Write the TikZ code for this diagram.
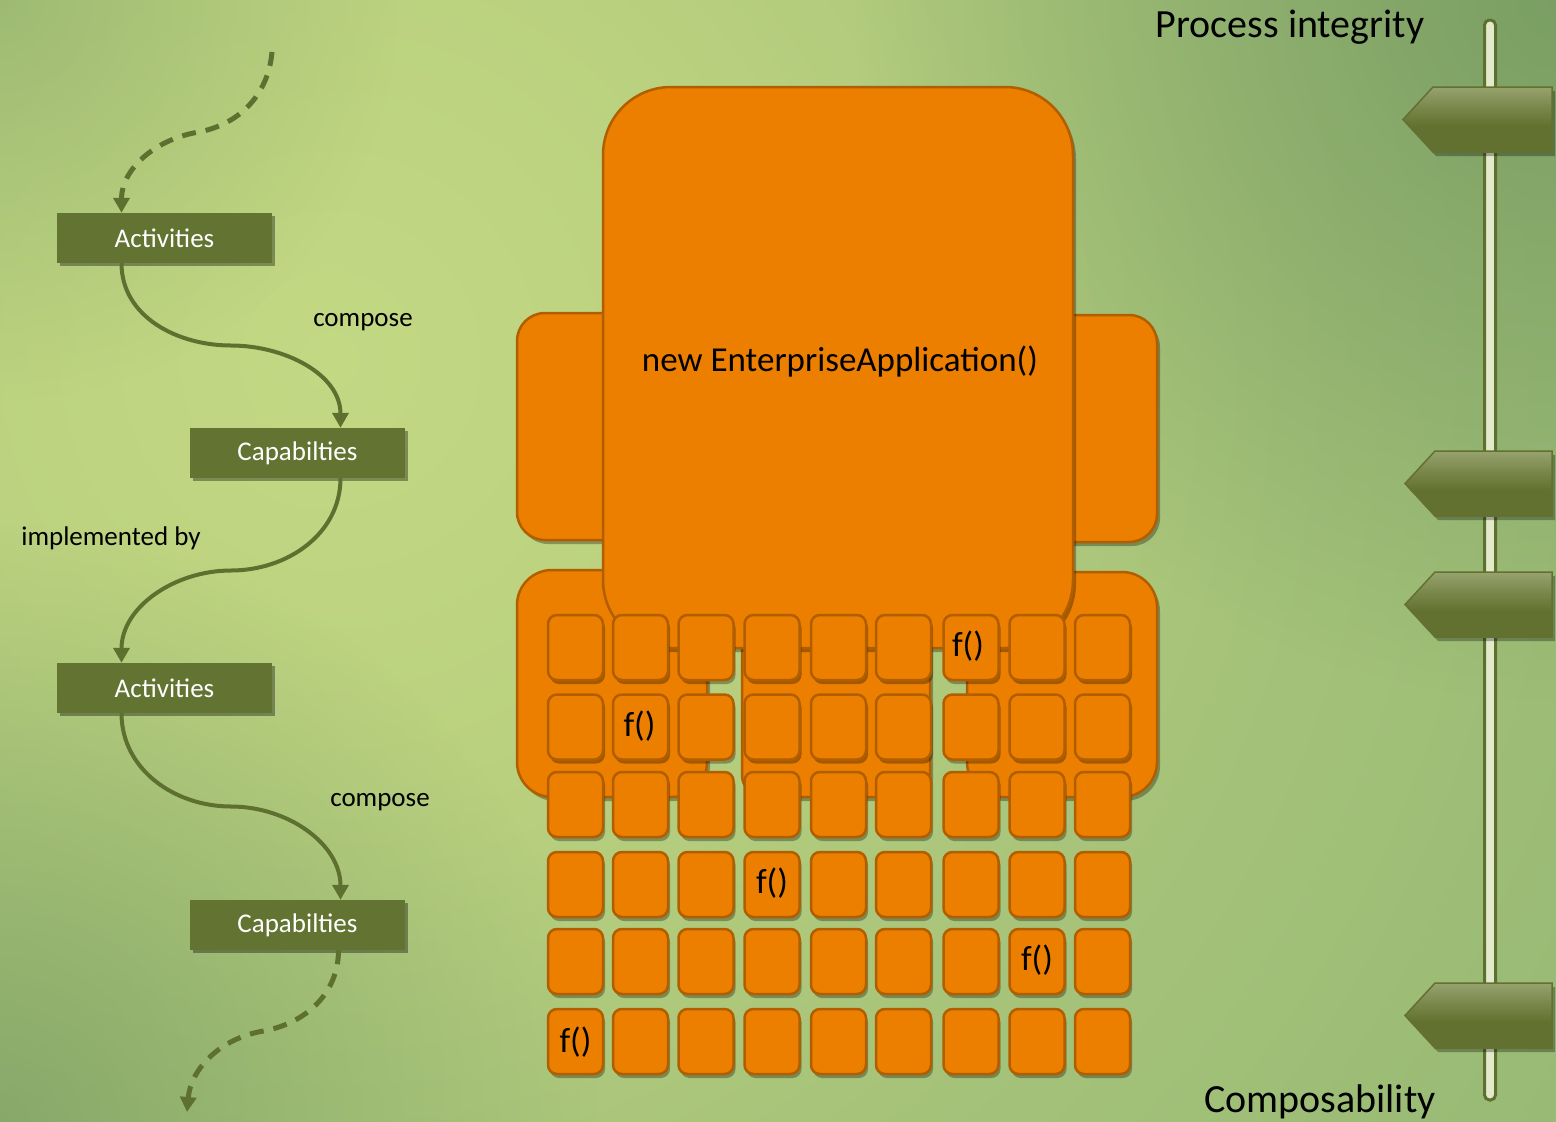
\documentclass[tikz,border=0pt]{standalone}
\usepackage{fontspec}
\setmainfont{Carlito}
\usetikzlibrary{arrows.meta,shadows,calc,fadings}
\definecolor{orfill}{HTML}{EC7F00}
\definecolor{ordraw}{HTML}{B05E00}
\definecolor{boxgreen}{HTML}{627332}
\definecolor{linegreen}{HTML}{5E7030}
\definecolor{bg0}{HTML}{C3D883}
\definecolor{bg1}{HTML}{BAD17F}
\definecolor{bg2}{HTML}{A5C279}
\definecolor{bg3}{HTML}{93B773}
\definecolor{bg4}{HTML}{82A86A}
\definecolor{corner}{HTML}{6F955E}
\definecolor{tagdark}{HTML}{62712F}
\definecolor{taglight}{HTML}{C6CEA6}
\definecolor{barfill}{HTML}{E3EACB}
\pgfdeclareradialshading{bgshade}{\pgfpoint{0bp}{0bp}}{color(0bp)=(bg0); color(7bp)=(bg1); color(16bp)=(bg2); color(27bp)=(bg3); color(40bp)=(bg4); color(50bp)=(bg4)}
\pgfdeclareverticalshading{tagshade}{100bp}{color(0bp)=(tagdark); color(45bp)=(tagdark); color(60bp)=(tagdark!75!taglight); color(100bp)=(taglight)}
\tikzfading[name=radfade, inner color=transparent!0, outer color=transparent!100]
\begin{document}
\begin{tikzpicture}[x=1pt,y=-1pt,
  panel/.style={fill=orfill, draw=ordraw, line width=2.5pt,
    drop shadow={shadow xshift=3pt, shadow yshift=-4pt, opacity=0.3, fill=black}},
  sq/.style={rectangle, minimum width=55pt, minimum height=65pt, rounded corners=9pt,
    fill=orfill, draw=ordraw, line width=2.5pt, inner sep=0pt,
    drop shadow={shadow xshift=2pt, shadow yshift=-4pt, opacity=0.3, fill=black}},
  ftext/.style={font=\fontsize{35}{40}\selectfont, text=black, inner sep=0pt},
  gbox/.style={rectangle, fill=boxgreen, text=white, minimum width=215pt, minimum height=50pt,
    inner sep=0pt, font=\fontsize{27}{32}\selectfont,
    drop shadow={shadow xshift=3pt, shadow yshift=-3pt, opacity=0.35, fill=black}},
  conn/.style={draw=linegreen, line width=4pt, -{Triangle[width=16pt,length=15pt]}},
  dconn/.style={conn, line width=5pt, dash pattern=on 14pt off 10pt},
  lbl/.style={font=\fontsize{27}{32}\selectfont, text=black, inner sep=0pt},
  big/.style={font=\fontsize{40}{44}\selectfont, text=black, inner sep=0pt},
  tag/.style={shading=tagshade, draw=tagdark, line width=1.5pt,
    drop shadow={shadow xshift=3pt, shadow yshift=-4pt, opacity=0.3, fill=black}}
]
\useasboundingbox (0,0) rectangle (1556,1122);
% background
\begin{scope}
\clip (0,0) rectangle (1556,1122);
\shade[shading=bgshade] (330,360) circle[radius=1500pt];
\fill[corner, path fading=radfade, fill opacity=0.75] (1556,0) circle[radius=700pt];
\fill[corner, path fading=radfade, fill opacity=0.6] (0,1122) circle[radius=600pt];
\fill[corner, path fading=radfade, fill opacity=0.35] (0,0) circle[radius=400pt];
\end{scope}

% ---- left flow ----
\node[gbox] (a1) at (164.5,238) {\raisebox{-2pt}{Activities}};
\node[gbox] (c1) at (297.5,453) {\raisebox{-2pt}{Capabilties}};
\node[gbox] (a2) at (164.5,688) {\raisebox{-2pt}{Activities}};
\node[gbox] (c2) at (297.5,925) {\raisebox{-2pt}{Capabilties}};
\coordinate (top) at (272,52);
\coordinate (bot) at (187,1112);

\draw[dconn] (top) to[out=-95,in=10] ($(top)!.5!([xshift=-43pt]a1.north)$) to[out=190,in=90] ([xshift=-43pt]a1.north);
\draw[conn] ([xshift=-43pt]a1.south) to[out=-90,in=180] ($([xshift=-43pt]a1.south)!.5!([xshift=43pt]c1.north)$) to[out=0,in=90] ([xshift=43pt]c1.north);
\draw[conn] ([xshift=43pt]c1.south) to[out=-90,in=0] ($([xshift=43pt]c1.south)!.5!([xshift=-43pt]a2.north)$) to[out=180,in=90] ([xshift=-43pt]a2.north);
\draw[conn] ([xshift=-43pt]a2.south) to[out=-90,in=180] ($([xshift=-43pt]a2.south)!.5!([xshift=43pt]c2.north)$) to[out=0,in=90] ([xshift=43pt]c2.north);
\draw[dconn] ([xshift=41pt]c2.south) to[out=-90,in=10] ($([xshift=41pt]c2.south)!.5!(bot)$) to[out=190,in=85] (bot);

\node[lbl] (l1) at (363,322) {\raisebox{-3pt}{compose}};
\node[lbl] (l2) at (111,538) {\raisebox{-2pt}{implemented by}};
\node[lbl] (l3) at (380,802) {\raisebox{-3pt}{compose}};

% ---- orange application ----
\draw[panel, rounded corners=28pt] (517,313) rectangle (660,540);
\draw[panel, rounded corners=28pt] (1010,315) rectangle (1157,542);
\draw[panel, rounded corners=35pt] (517,570) rectangle (707,797);
\draw[panel, rounded corners=22pt] (742,590) rectangle (930,797);
\draw[panel, rounded corners=35pt] (967,572) rectangle (1157,797);
\draw[panel, rounded corners=68pt] (603,87) rectangle (1073,648);
\node[big, font=\fontsize{35}{40}\selectfont] (app) at (840,362) {new EnterpriseApplication()};

\foreach \r/\y in {1/647.5,2/727,3/804.5,4/884.5,5/961.5,6/1041.5}{
  \foreach \c/\x in {1/575.5,2/640.5,3/706,4/772,5/838.5,6/903.5,7/971,8/1037,9/1102.5}{
    \node[sq] (s\r-\c) at (\x,\y) {};
  }
}
\node[ftext] (f1) at ($(s1-7)+(-3,-1)$) {f()};
\node[ftext] (f2) at ($(s2-2)+(-1,-1)$) {f()};
\node[ftext] (f3) at ($(s4-4)+(0,-1)$) {f()};
\node[ftext] (f4) at ($(s5-8)+(0,-1)$) {f()};
\node[ftext] (f5) at ($(s6-1)+(0,1)$) {f()};

% ---- right slider ----
\draw[draw=linegreen, fill=barfill, line width=3pt, rounded corners=5pt] (1484.5,20) rectangle (1495.5,1100);
\foreach \ty/\tx in {87/1403,451/1405,572/1405,983/1405}{
  \path[tag] (\tx,{\ty+32.5}) -- ({\tx+30},\ty) -- (1552,\ty) -- (1552,{\ty+65}) -- ({\tx+30},{\ty+65}) -- cycle;
}
\node[big] (pi) at (1290,27) {Process integrity};
\node[big] (co) at (1320,1102) {Composability};
\end{tikzpicture}
\end{document}
